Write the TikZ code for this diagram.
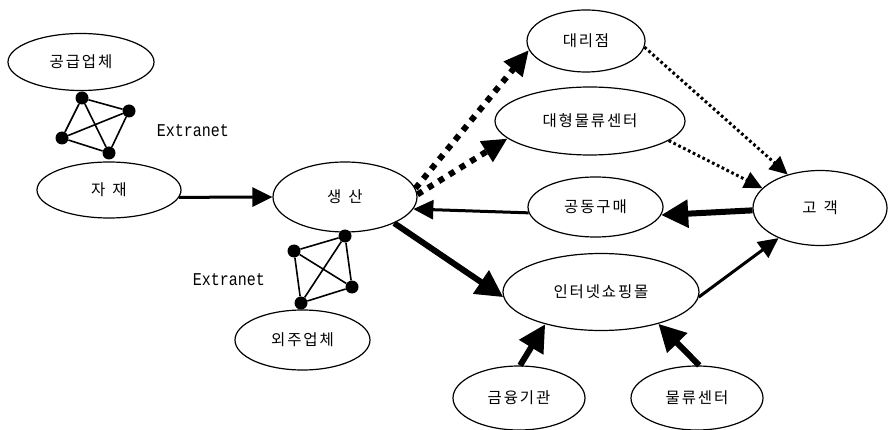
\documentclass[tikz,border=0pt]{standalone}
\usepackage{fontspec}
\newfontfamily\kfont[LetterSpace=12]{Noto Sans CJK KR}
\newfontfamily\exfont{Liberation Mono}
\usetikzlibrary{shapes.geometric,arrows.meta}

\newcommand\entfont{\kfont\fontsize{15.5}{18}\selectfont\spaceskip=7pt\relax}
\newcommand\netfont{\exfont\fontsize{15}{18}\selectfont}

\tikzset{
  ent/.style={ellipse, draw, line width=1.2pt, fill=white, inner sep=0pt,
    font=\entfont},
  netdot/.style={circle, fill=black, inner sep=0pt, minimum size=13pt},
  link/.style={line width=1.6pt},
  netlabel/.style={inner sep=0pt, font=\netfont},
  flowmid/.style={line width=3pt, -{Triangle[length=20pt,width=19pt]}},
  flowheavy/.style={line width=6pt, -{Triangle[length=27pt,width=27pt]}},
  dotheavy/.style={line width=6pt, dash pattern=on 6pt off 6.5pt,
    -{Triangle[length=25pt,width=23pt]}},
  dotlight/.style={line width=3pt, dash pattern=on 2.7pt off 2.7pt,
    -{Triangle[length=18pt,width=17pt]}},
}

\begin{document}
\begin{tikzpicture}[x=1pt,y=-1pt]
\useasboundingbox (0,0) rectangle (888,430);

% entities
\node[ent, minimum width=146pt, minimum height=57pt] (gong)     at (81,62)     {공급업체};
\node[ent, minimum width=144pt, minimum height=56pt] (jajae)    at (109,190)   {자 재};
\node[ent, minimum width=144pt, minimum height=70pt] (sangsan)  at (345,197)   {생 산};
\node[ent, minimum width=135pt, minimum height=60pt] (oeju)     at (302.5,340) {외주업체};
\node[ent, minimum width=118pt, minimum height=62pt] (daeri)    at (586,41)    {대리점};
\node[ent, minimum width=190pt, minimum height=68pt] (daehyung) at (590,121)   {대형물류센터};
\node[ent, minimum width=135pt, minimum height=60pt] (gongdong) at (595.5,207) {공동구매};
\node[ent, minimum width=134pt, minimum height=75pt] (gogaek)   at (820,208)   {고 객};
\node[ent, minimum width=196pt, minimum height=77pt] (internet) at (601,292)   {인터넷쇼핑몰};
\node[ent, minimum width=132pt, minimum height=64pt] (geumyung) at (519,398)   {금융기관};
\node[ent, minimum width=132pt, minimum height=64pt] (mulryu)   at (697,398)   {물류센터};

% extranet between supplier and materials
\node[netdot] (a1) at (82,98)   {};
\node[netdot] (a2) at (129,111) {};
\node[netdot] (a3) at (62,138)  {};
\node[netdot] (a4) at (109,153) {};
\draw[link] (a1) -- (a2) (a1) -- (a3) (a1) -- (a4)
            (a2) -- (a3) (a2) -- (a4) (a3) -- (a4);
\node[netlabel] (ext1) at (193,131) {\scalebox{1}[1.2]{Extranet}};

% extranet between production and subcontractor
\node[netdot] (b1) at (345,236) {};
\node[netdot] (b2) at (294,251) {};
\node[netdot] (b3) at (352,287) {};
\node[netdot] (b4) at (301,303) {};
\draw[link] (b1) -- (b2) (b1) -- (b3) (b1) -- (b4)
            (b2) -- (b3) (b2) -- (b4) (b3) -- (b4);
\node[netlabel] (ext2) at (229,280) {\scalebox{1}[1.2]{Extranet}};

% flows
\draw[flowmid]   (jajae.-6)      -- (sangsan.west);
\draw[dotheavy]  (sangsan.7)     -- (daeri.189);
\draw[dotheavy]  (sangsan.2)     -- (daehyung.192);
\draw[flowmid]   (gongdong.185)  -- (sangsan.-10);
\draw[flowheavy] (sangsan.-28)   -- (internet.183);
\draw[dotlight]  (daeri.-6)      -- (gogaek.134);
\draw[dotlight]  (daehyung.-14)  -- (gogaek.161);
\draw[flowheavy] (gogaek.182)    -- (gongdong.-7);
\draw[flowmid]   (internet.-3)   -- (gogaek.216);
\draw[flowheavy] (geumyung.88)   -- (internet.210);
\draw[flowheavy] (mulryu.86)     -- (internet.-29);
\end{tikzpicture}
\end{document}
